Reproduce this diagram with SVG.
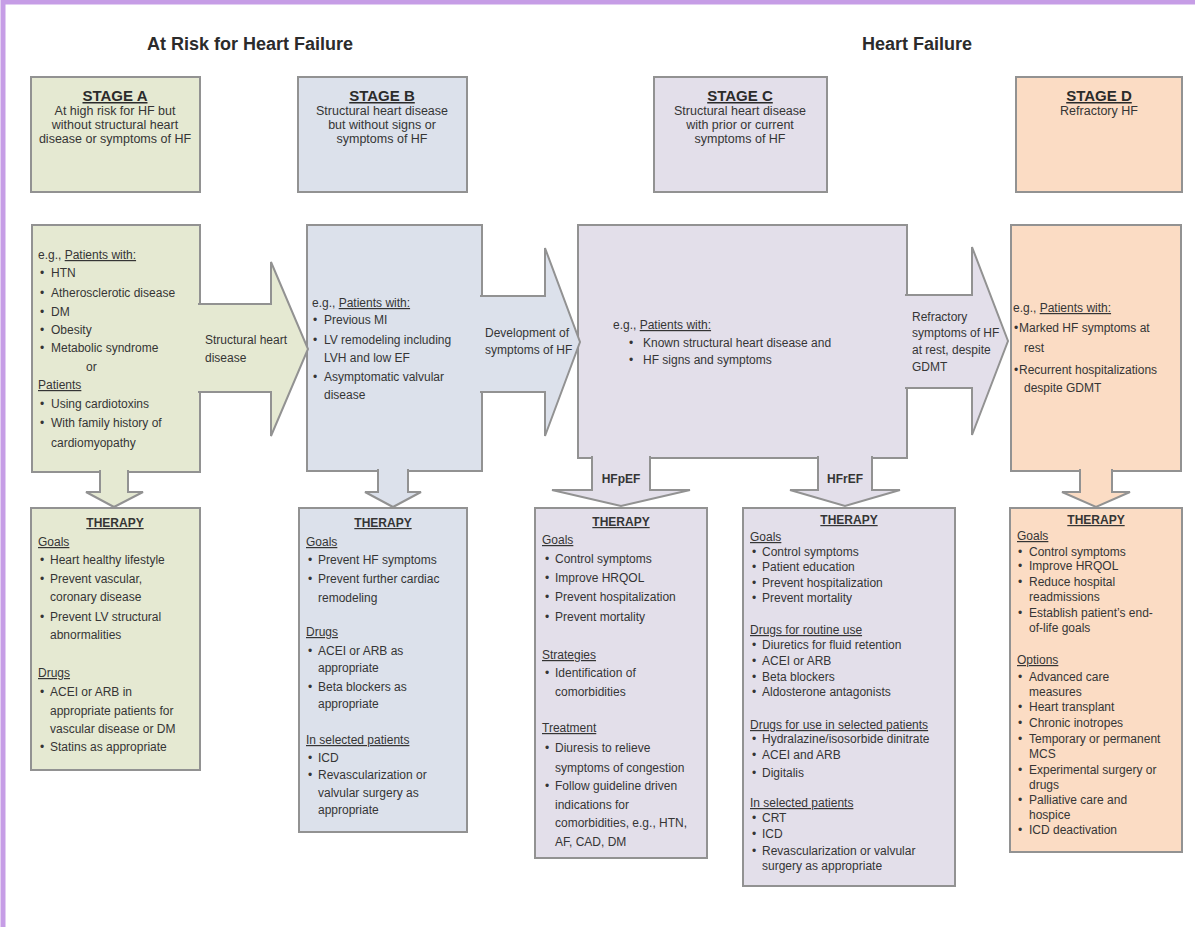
<svg xmlns="http://www.w3.org/2000/svg" width="1195" height="927" viewBox="0 0 1195 927">
  <style>
    .frame { fill: #ffffff; stroke: #c69de6; stroke-width: 5; }
    .box { stroke: #929292; stroke-width: 2; }
    .ga { fill: #e5e9d2; }
    .gb { fill: #dce1eb; }
    .gc { fill: #e3dfea; }
    .gd { fill: #fbdcc4; }
    .t { font-family: "Liberation Sans", Arial, sans-serif; font-size: 12px; fill: #353535; }
    .s { font-size: 12.5px; }
    .title { font-family: "Liberation Sans", Arial, sans-serif; font-size: 18px; font-weight: bold; fill: #2b2b2b; }
    .stage { font-family: "Liberation Sans", Arial, sans-serif; font-size: 15px; font-weight: bold; fill: #2b2b2b; text-decoration: underline; }
    .th { font-weight: bold; text-decoration: underline; }
    .u { text-decoration: underline; }
    .b { font-weight: bold; }
    .mid { text-anchor: middle; }
  </style>

  <!-- outer frame -->
  <rect class="frame" x="3" y="2" width="1205" height="940"/>

  <!-- section titles -->
  <text class="title mid" x="250" y="50">At Risk for Heart Failure</text>
  <text class="title mid" x="917" y="50">Heart Failure</text>

  <!-- ===== Stage A ===== -->
  <g id="stage-a-head">
    <rect class="box ga" x="31" y="77" width="169" height="115"/>
    <text class="stage mid" x="115" y="101">STAGE A</text>
    <text class="t s mid" x="115" y="115">At high risk for HF but</text>
    <text class="t s mid" x="115" y="129">without structural heart</text>
    <text class="t s mid" x="115" y="143">disease or symptoms of HF</text>
  </g>
  <g id="stage-a-main">
    <rect class="box ga" x="32" y="225" width="168" height="247"/>
    <text class="t" x="38" y="259">e.g., <tspan class="u">Patients with:</tspan></text>
    <text class="t" y="277"><tspan x="40">•</tspan><tspan x="51">HTN</tspan></text>
    <text class="t" y="297"><tspan x="40">•</tspan><tspan x="51">Atherosclerotic disease</tspan></text>
    <text class="t" y="316"><tspan x="40">•</tspan><tspan x="51">DM</tspan></text>
    <text class="t" y="334"><tspan x="40">•</tspan><tspan x="51">Obesity</tspan></text>
    <text class="t" y="352"><tspan x="40">•</tspan><tspan x="51">Metabolic syndrome</tspan></text>
    <text class="t" x="86" y="371">or</text>
    <text class="t u" x="38" y="389">Patients</text>
    <text class="t" y="408"><tspan x="40">•</tspan><tspan x="51">Using cardiotoxins</tspan></text>
    <text class="t" y="427"><tspan x="40">•</tspan><tspan x="51">With family history of</tspan></text>
    <text class="t" x="51" y="447">cardiomyopathy</text>
  </g>
  <g id="stage-a-therapy">
    <rect class="box ga" x="31" y="508" width="169" height="262"/>
    <text class="t th mid" x="115" y="527">THERAPY</text>
    <text class="t u" x="38" y="546">Goals</text>
    <text class="t" y="564"><tspan x="40">•</tspan><tspan x="50">Heart healthy lifestyle</tspan></text>
    <text class="t" y="583"><tspan x="40">•</tspan><tspan x="50">Prevent vascular,</tspan></text>
    <text class="t" x="50" y="601">coronary disease</text>
    <text class="t" y="621"><tspan x="40">•</tspan><tspan x="50">Prevent LV structural</tspan></text>
    <text class="t" x="50" y="639">abnormalities</text>
    <text class="t u" x="38" y="677">Drugs</text>
    <text class="t" y="696"><tspan x="40">•</tspan><tspan x="50">ACEI or ARB in</tspan></text>
    <text class="t" x="50" y="715">appropriate patients for</text>
    <text class="t" x="50" y="733">vascular disease or DM</text>
    <text class="t" y="751"><tspan x="40">•</tspan><tspan x="50">Statins as appropriate</tspan></text>
  </g>

  <!-- ===== Stage B ===== -->
  <g id="stage-b-head">
    <rect class="box gb" x="298" y="77" width="169" height="115"/>
    <text class="stage mid" x="382" y="101">STAGE B</text>
    <text class="t s mid" x="382" y="115">Structural heart disease</text>
    <text class="t s mid" x="382" y="129">but without signs or</text>
    <text class="t s mid" x="382" y="143">symptoms of HF</text>
  </g>
  <g id="stage-b-main">
    <rect class="box gb" x="307" y="225" width="175" height="246"/>
    <text class="t" x="312" y="307">e.g., <tspan class="u">Patients with:</tspan></text>
    <text class="t" y="324"><tspan x="313">•</tspan><tspan x="324">Previous MI</tspan></text>
    <text class="t" y="344"><tspan x="313">•</tspan><tspan x="324">LV remodeling including</tspan></text>
    <text class="t" x="324" y="362">LVH and low EF</text>
    <text class="t" y="381"><tspan x="313">•</tspan><tspan x="324">Asymptomatic valvular</tspan></text>
    <text class="t" x="324" y="399">disease</text>
  </g>
  <g id="stage-b-therapy">
    <rect class="box gb" x="299" y="508" width="168" height="324"/>
    <text class="t th mid" x="383" y="527">THERAPY</text>
    <text class="t u" x="306" y="546">Goals</text>
    <text class="t" y="564"><tspan x="308">•</tspan><tspan x="318">Prevent HF symptoms</tspan></text>
    <text class="t" y="583"><tspan x="308">•</tspan><tspan x="318">Prevent further cardiac</tspan></text>
    <text class="t" x="318" y="602">remodeling</text>
    <text class="t u" x="306" y="636">Drugs</text>
    <text class="t" y="655"><tspan x="308">•</tspan><tspan x="318">ACEI or ARB  as</tspan></text>
    <text class="t" x="318" y="672">appropriate</text>
    <text class="t" y="691"><tspan x="308">•</tspan><tspan x="318">Beta blockers as</tspan></text>
    <text class="t" x="318" y="708">appropriate</text>
    <text class="t u" x="306" y="744">In selected patients</text>
    <text class="t" y="762"><tspan x="308">•</tspan><tspan x="318">ICD</tspan></text>
    <text class="t" y="779"><tspan x="308">•</tspan><tspan x="318">Revascularization or</tspan></text>
    <text class="t" x="318" y="797">valvular surgery as</text>
    <text class="t" x="318" y="814">appropriate</text>
  </g>

  <!-- ===== Stage C ===== -->
  <g id="stage-c-head">
    <rect class="box gc" x="654" y="77" width="173" height="115"/>
    <text class="stage mid" x="740" y="101">STAGE C</text>
    <text class="t s mid" x="740" y="115">Structural heart disease</text>
    <text class="t s mid" x="740" y="129">with prior or current</text>
    <text class="t s mid" x="740" y="143">symptoms of HF</text>
  </g>
  <g id="stage-c-main">
    <rect class="box gc" x="578" y="225" width="329" height="233"/>
    <text class="t" x="613" y="329">e.g., <tspan class="u">Patients with:</tspan></text>
    <text class="t" y="347"><tspan x="629">•</tspan><tspan x="643">Known structural heart disease and</tspan></text>
    <text class="t" y="364"><tspan x="629">•</tspan><tspan x="643">HF signs and symptoms</tspan></text>
  </g>
  <g id="hfpef-therapy">
    <rect class="box gc" x="535" y="508" width="172" height="350"/>
    <text class="t th mid" x="621" y="526">THERAPY</text>
    <text class="t u" x="542" y="544">Goals</text>
    <text class="t" y="563"><tspan x="545">•</tspan><tspan x="555">Control symptoms</tspan></text>
    <text class="t" y="582"><tspan x="545">•</tspan><tspan x="555">Improve HRQOL</tspan></text>
    <text class="t" y="601"><tspan x="545">•</tspan><tspan x="555">Prevent hospitalization</tspan></text>
    <text class="t" y="621"><tspan x="545">•</tspan><tspan x="555">Prevent mortality</tspan></text>
    <text class="t u" x="542" y="659">Strategies</text>
    <text class="t" y="677"><tspan x="545">•</tspan><tspan x="555">Identification of</tspan></text>
    <text class="t" x="555" y="696">comorbidities</text>
    <text class="t u" x="542" y="732">Treatment</text>
    <text class="t" y="752"><tspan x="545">•</tspan><tspan x="555">Diuresis to relieve</tspan></text>
    <text class="t" x="555" y="772">symptoms of congestion</text>
    <text class="t" y="790"><tspan x="545">•</tspan><tspan x="555">Follow guideline driven</tspan></text>
    <text class="t" x="555" y="809">indications for</text>
    <text class="t" x="555" y="827">comorbidities, e.g., HTN,</text>
    <text class="t" x="555" y="846">AF, CAD, DM</text>
  </g>
  <g id="hfref-therapy">
    <rect class="box gc" x="743" y="508" width="212" height="378"/>
    <text class="t th mid" x="849" y="524">THERAPY</text>
    <text class="t u" x="750" y="541">Goals</text>
    <text class="t" y="556"><tspan x="752">•</tspan><tspan x="762">Control symptoms</tspan></text>
    <text class="t" y="571"><tspan x="752">•</tspan><tspan x="762">Patient education</tspan></text>
    <text class="t" y="587"><tspan x="752">•</tspan><tspan x="762">Prevent hospitalization</tspan></text>
    <text class="t" y="602"><tspan x="752">•</tspan><tspan x="762">Prevent mortality</tspan></text>
    <text class="t u" x="750" y="634">Drugs for routine use</text>
    <text class="t" y="649"><tspan x="752">•</tspan><tspan x="762">Diuretics for fluid retention</tspan></text>
    <text class="t" y="665"><tspan x="752">•</tspan><tspan x="762">ACEI or ARB</tspan></text>
    <text class="t" y="681"><tspan x="752">•</tspan><tspan x="762">Beta blockers</tspan></text>
    <text class="t" y="696"><tspan x="752">•</tspan><tspan x="762">Aldosterone antagonists</tspan></text>
    <text class="t u" x="750" y="729">Drugs for use in selected patients</text>
    <text class="t" y="743"><tspan x="752">•</tspan><tspan x="762">Hydralazine/isosorbide dinitrate</tspan></text>
    <text class="t" y="759"><tspan x="752">•</tspan><tspan x="762">ACEI and ARB</tspan></text>
    <text class="t" y="777"><tspan x="752">•</tspan><tspan x="762">Digitalis</tspan></text>
    <text class="t u" x="750" y="807">In selected patients</text>
    <text class="t" y="822"><tspan x="752">•</tspan><tspan x="762">CRT</tspan></text>
    <text class="t" y="838"><tspan x="752">•</tspan><tspan x="762">ICD</tspan></text>
    <text class="t" y="855"><tspan x="752">•</tspan><tspan x="762">Revascularization or valvular</tspan></text>
    <text class="t" x="762" y="870">surgery as appropriate</text>
  </g>

  <!-- ===== Stage D ===== -->
  <g id="stage-d-head">
    <rect class="box gd" x="1016" y="77" width="166" height="115"/>
    <text class="stage mid" x="1099" y="101">STAGE D</text>
    <text class="t s mid" x="1099" y="115">Refractory HF</text>
  </g>
  <g id="stage-d-main">
    <rect class="box gd" x="1011" y="225" width="170" height="246"/>
    <text class="t" x="1013" y="312">e.g., <tspan class="u">Patients with:</tspan></text>
    <text class="t" y="332"><tspan x="1014">•</tspan><tspan x="1019">Marked HF symptoms at</tspan></text>
    <text class="t" x="1024" y="352">rest</text>
    <text class="t" y="374"><tspan x="1014">•</tspan><tspan x="1019">Recurrent hospitalizations</tspan></text>
    <text class="t" x="1024" y="392">despite GDMT</text>
  </g>
  <g id="stage-d-therapy">
    <rect class="box gd" x="1010" y="508" width="172" height="344"/>
    <text class="t th mid" x="1096" y="524">THERAPY</text>
    <text class="t u" x="1017" y="540">Goals</text>
    <text class="t" y="556"><tspan x="1018">•</tspan><tspan x="1029">Control symptoms</tspan></text>
    <text class="t" y="570"><tspan x="1018">•</tspan><tspan x="1029">Improve HRQOL</tspan></text>
    <text class="t" y="586"><tspan x="1018">•</tspan><tspan x="1029">Reduce hospital</tspan></text>
    <text class="t" x="1029" y="601">readmissions</text>
    <text class="t" y="617"><tspan x="1018">•</tspan><tspan x="1029">Establish patient’s end-</tspan></text>
    <text class="t" x="1029" y="632">of-life goals</text>
    <text class="t u" x="1017" y="664">Options</text>
    <text class="t" y="681"><tspan x="1018">•</tspan><tspan x="1029">Advanced care</tspan></text>
    <text class="t" x="1029" y="696">measures</text>
    <text class="t" y="711"><tspan x="1018">•</tspan><tspan x="1029">Heart transplant</tspan></text>
    <text class="t" y="727"><tspan x="1018">•</tspan><tspan x="1029">Chronic inotropes</tspan></text>
    <text class="t" y="743"><tspan x="1018">•</tspan><tspan x="1029">Temporary or permanent</tspan></text>
    <text class="t" x="1029" y="758">MCS</text>
    <text class="t" y="774"><tspan x="1018">•</tspan><tspan x="1029">Experimental surgery or</tspan></text>
    <text class="t" x="1029" y="789">drugs</text>
    <text class="t" y="804"><tspan x="1018">•</tspan><tspan x="1029">Palliative care and</tspan></text>
    <text class="t" x="1029" y="819">hospice</text>
    <text class="t" y="834"><tspan x="1018">•</tspan><tspan x="1029">ICD deactivation</tspan></text>
  </g>

  <!-- ===== block arrows between stages and down to therapy ===== -->
  <g id="connectors">
    <!-- open paths: the back edge merges into the source box -->
    <path class="box ga" d="M 198 304 H 271 V 262 L 308 349 L 271 436 V 392 H 198"/>
    <path class="box gb" d="M 480 296 H 545 V 248 L 580 342 L 545 436 V 392 H 480"/>
    <path class="box gc" d="M 905 295 H 972 V 247 L 1008 341 L 972 435 V 388 H 905"/>

    <path class="box ga" d="M 100 470 V 492 H 86 L 114 507 L 143 492 H 128 V 470"/>
    <path class="box gb" d="M 378 469 V 492 H 365 L 393 507 L 421 492 H 408 V 469"/>
    <path class="box gc" d="M 592 456 V 490 H 552 L 621 506 L 690 490 H 650 V 456"/>
    <path class="box gc" d="M 818 456 V 490 H 790 L 845 506 L 900 490 H 872 V 456"/>
    <path class="box gd" d="M 1080 469 V 492 H 1062 L 1096 507 L 1130 492 H 1112 V 469"/>

    <text class="t" x="205" y="344">Structural heart</text>
    <text class="t" x="205" y="362">disease</text>
    <text class="t" x="485" y="337">Development of</text>
    <text class="t" x="485" y="354">symptoms of HF</text>
    <text class="t" x="912" y="321">Refractory</text>
    <text class="t" x="912" y="337">symptoms of HF</text>
    <text class="t" x="912" y="354">at rest, despite</text>
    <text class="t" x="912" y="371">GDMT</text>
    <text class="t b mid" x="621" y="483">HFpEF</text>
    <text class="t b mid" x="845" y="483">HFrEF</text>
  </g>
</svg>
